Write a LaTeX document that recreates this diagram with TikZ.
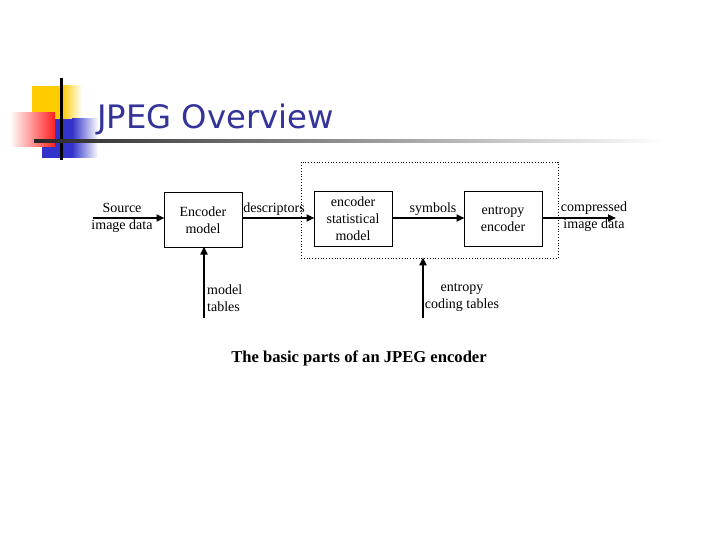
\documentclass[tikz,border=0pt]{standalone}
\usepackage{fontspec}
\setmainfont{Liberation Serif}
\newfontfamily\titlefont{DejaVu Sans}
\usetikzlibrary{arrows.meta}
\definecolor{titleblue}{HTML}{333399}
\definecolor{decoyellow}{HTML}{FFCC00}
\definecolor{decoblue}{HTML}{3333CC}
\definecolor{decored}{HTML}{FF2020}
\tikzset{
  blockbox/.style={draw, line width=1pt, minimum width=78pt, minimum height=54pt, inner sep=0pt},
  flow/.style={line width=2.2pt, -{Triangle[length=8pt,width=7pt]}, shorten >=-1pt},
  lbl/.style={font=\fontsize{14}{17}\selectfont, align=center, inner sep=0pt},
}
\begin{document}
\begin{tikzpicture}[x=1pt,y=-1pt]
\useasboundingbox (0,0) rectangle (720,540);
% decoration
\fill[decoyellow] (32,86) rectangle (62,119);
\shade[left color=decoyellow, right color=white] (62,86) rectangle (82,119);
\fill[decoblue] (42,119) rectangle (72,158);
\shade[left color=decoblue, right color=white] (72,119) rectangle (98,158);
\shade[left color=white, right color=decored] (10,113) rectangle (55,147);
\draw[line width=3pt] (61,78) -- (61,160);
\shade[left color=black!85, right color=white] (34,139.5) rectangle (665,142.5);
\node[anchor=base west, inner sep=0pt, text=titleblue, font=\titlefont\fontsize{32.3}{32.3}\selectfont] (title) at (97,129) {JPEG Overview};
% boxes
\node[draw, dotted, line width=0.8pt, minimum width=257pt, minimum height=96pt, inner sep=0pt] (group) at (429.5,210) {};
\node[blockbox] (enc) at (203,220) {};
\node[lbl] at (203,220) {Encoder\\model};
\node[blockbox] (stat) at (353,219) {};
\node[lbl] at (353,219) {encoder\\statistical\\model};
\node[blockbox] (ent) at (503,219) {};
\node[lbl] at (503,219) {entropy\\encoder};
% external points
\coordinate (src) at (93,218);
\coordinate (out) at (615,218);
\coordinate (mt) at (204,318);
\coordinate (ct) at (423,318);
\draw[flow] (src) -- (enc.west |- src);
\draw[flow] (enc.east |- src) -- (stat.west |- src);
\draw[flow] (stat.east |- src) -- (ent.west |- src);
\draw[flow] (ent.east |- src) -- (out);
\draw[flow] (mt) -- (enc.south -| mt);
\draw[flow] (ct) -- (group.south -| ct);
% labels
\node[lbl] (srcl) at (122,218) {Source\\image data};
\node[lbl] (desc) at (274,209) {descriptors};
\node[lbl] (sym) at (433,209) {symbols};
\node[lbl] (outl) at (594,217) {compressed\\image data};
\node[lbl, anchor=west, align=left] (mtl) at (207,298) {model\\tables};
\node[lbl] (ctl) at (462,298) {entropy\\coding tables};
\node[font=\bfseries\fontsize{16.6}{16.6}\selectfont, inner sep=0pt] (cap) at (359,358) {The basic parts of an JPEG encoder};
\end{tikzpicture}
\end{document}
